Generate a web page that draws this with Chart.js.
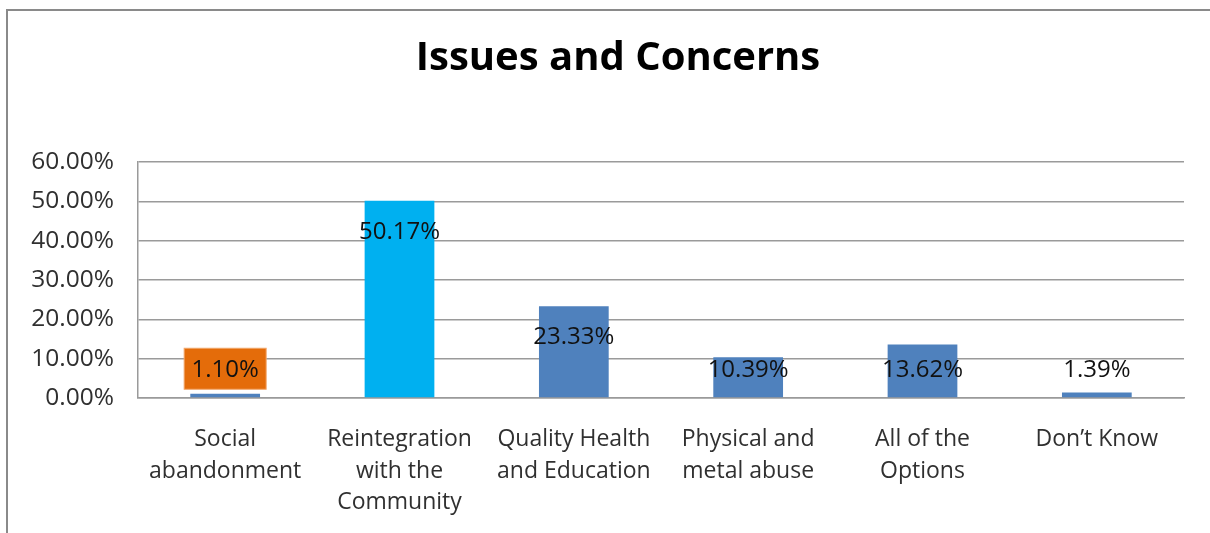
<!DOCTYPE html>
<html>
<head>
<meta charset="utf-8">
<title>Issues and Concerns</title>
<script src="https://cdn.jsdelivr.net/npm/chart.js@4.4.1/dist/chart.umd.min.js"></script>
<style>
    html, body { margin: 0; padding: 0; background: #fff; overflow: hidden; }
    #wrap { position: relative; width: 1210px; height: 533px; }
    #frame {
        position: absolute; left: 6px; top: 9px; right: -10px; bottom: -10px;
        border-left: 2px solid #8a8a8a; border-top: 2px solid #8a8a8a;
        pointer-events: none;
    }
    canvas { position: absolute; left: 0; top: 0; }
</style>
</head>
<body>
<div id="wrap">
    <canvas id="issuesChart" width="1210" height="533"></canvas>
    <div id="frame"></div>
</div>
<script>
// Survey answers
const categories = [
    ["Social", "abandonment"],
    ["Reintegration", "with the", "Community"],
    ["Quality Health", "and Education"],
    ["Physical and", "metal abuse"],
    ["All of the", "Options"],
    ["Don\u2019t Know"]
];
const shares = [1.10, 50.17, 23.33, 10.39, 13.62, 1.39];
const yTicks = [0, 10, 20, 30, 40, 50, 60];
const chartTitle = 'Issues and Concerns';

const FONT = "'Open Sans', 'Noto Sans', sans-serif";
const barColors = ['#4F81BD', '#00B0F0', '#4F81BD', '#4F81BD', '#4F81BD', '#4F81BD'];
const labelBoxColors = ['#E46C0A', null, null, null, null, null];

// Title centred on the outer frame, which runs a little past the right edge
const frameTitle = {
    id: 'frameTitle',
    afterDraw(chart) {
        const ctx = chart.ctx;
        ctx.save();
        ctx.font = `bold 40px ${FONT}`;
        ctx.fillStyle = '#000';
        ctx.textAlign = 'center';
        ctx.textBaseline = 'alphabetic';
        ctx.fillText(chartTitle, (chart.width + 26) / 2, 70);
        ctx.restore();
    }
};

// Value labels drawn near the top of each bar, kept above the axis line
const valueLabels = {
    id: 'valueLabels',
    afterDatasetsDraw(chart) {
        const ctx = chart.ctx;
        const meta = chart.getDatasetMeta(0);
        ctx.save();
        ctx.font = `24px ${FONT}`;
        ctx.textAlign = 'center';
        ctx.textBaseline = 'middle';
        meta.data.forEach((bar, i) => {
            const y = Math.min(bar.y + 31, bar.base - 27);
            const text = shares[i].toFixed(2) + '%';
            if (labelBoxColors[i]) {
                ctx.fillStyle = labelBoxColors[i];
                ctx.fillRect(bar.x - 41, y - 22, 82, 41);
                ctx.strokeStyle = '#F2A66A';
                ctx.lineWidth = 1;
                ctx.strokeRect(bar.x - 41, y - 22, 82, 41);
            }
            ctx.fillStyle = '#111';
            ctx.fillText(text, bar.x, y);
        });
        ctx.restore();
    }
};

const ctx = document.getElementById('issuesChart').getContext('2d');
new Chart(ctx, {
    type: 'bar',
    data: {
        labels: categories,
        datasets: [{
            data: shares,
            backgroundColor: barColors,
            borderWidth: 0,
            barPercentage: 0.4,
            categoryPercentage: 1
        }]
    },
    options: {
        responsive: false,
        animation: false,
        layout: { padding: { left: 0, right: 26, top: 162, bottom: 0 } },
        plugins: {
            legend: { display: false },
            tooltip: { enabled: false },
            title: { display: false }
        },
        scales: {
            x: {
                grid: { display: false, drawTicks: false },
                border: { display: true, color: '#9a9a9a', width: 1.5 },
                ticks: {
                    color: '#303030',
                    font: { family: FONT, size: 23, lineHeight: 1.39 },
                    padding: 25,
                    maxRotation: 0,
                    autoSkip: false
                },
                afterFit(scale) { scale.height = 135; }
            },
            y: {
                min: 0,
                max: 60,
                afterBuildTicks(scale) { scale.ticks = yTicks.map(v => ({ value: v })); },
                grid: { color: '#9a9a9a', lineWidth: 1.5, drawTicks: false },
                border: { display: true, color: '#9a9a9a', width: 1.5 },
                ticks: {
                    color: '#303030',
                    font: { family: FONT, size: 24.5 },
                    padding: 24,
                    callback: v => v.toFixed(2) + '%'
                },
                afterFit(scale) { scale.width = 138; }
            }
        }
    },
    plugins: [valueLabels, frameTitle]
});
</script>
</body>
</html>
